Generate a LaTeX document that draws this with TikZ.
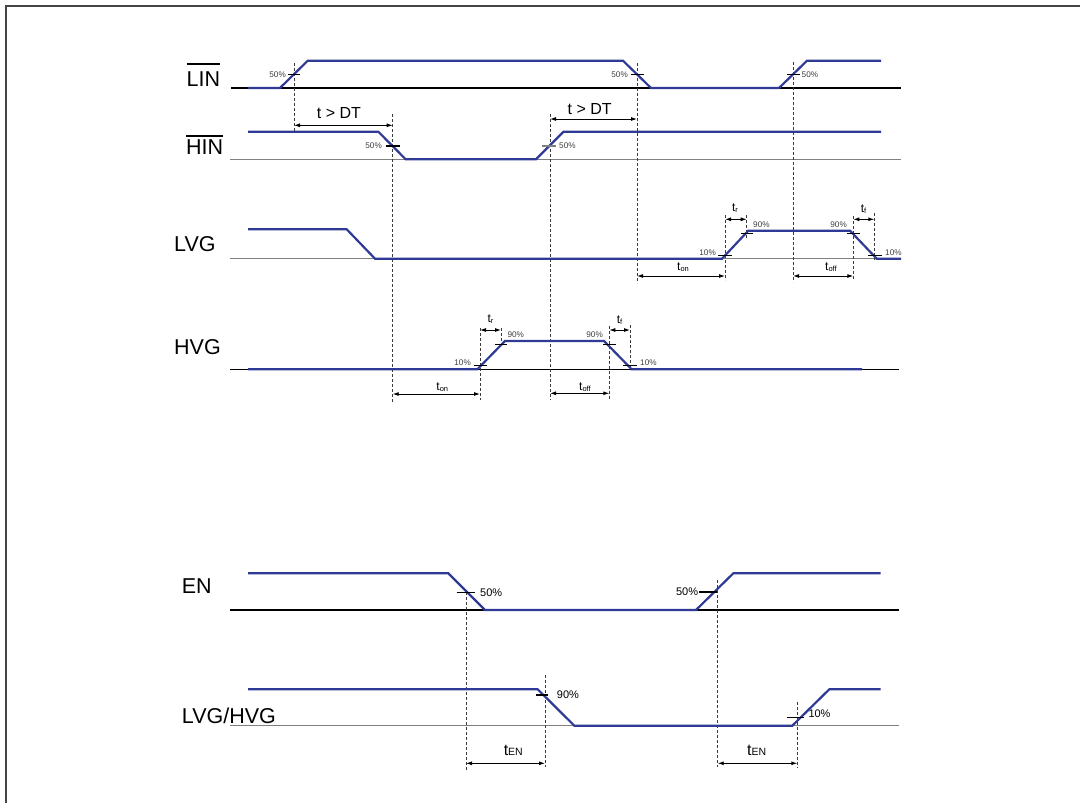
\documentclass[tikz,border=0pt]{standalone}
\usepackage{fontspec}
\setmainfont{Liberation Sans}
\usetikzlibrary{arrows.meta}
\definecolor{wavec}{HTML}{2E3A96}
\definecolor{dashc}{HTML}{3A3A3A}
\definecolor{framec}{HTML}{444444}
\definecolor{pctc}{HTML}{404040}
\newcommand\tsub[2]{t{\fontsize{7.5}{8}\selectfont\raisebox{-1pt}{#2}}}
\newcommand\tbig[1]{{\fontsize{16}{18}\selectfont t}{\fontsize{10.5}{12}\selectfont #1}}
\tikzset{
  wave/.style={draw=wavec, line width=2.2pt, line join=miter},
  base/.style={line width=1.1pt},
  vdash/.style={draw=dashc, line width=0.9pt, dash pattern=on 3pt off 2pt},
  hmark/.style={line width=1.2pt},
  dim/.style={{Latex[length=6pt,width=4pt]}-{Latex[length=6pt,width=4pt]}, line width=0.9pt},
  sig/.style={font=\fontsize{21.5}{24}\selectfont, inner sep=0pt, anchor=west},
  pct/.style={font=\fontsize{8.2}{9}\selectfont, inner sep=0pt, text=pctc},
  pctl/.style={font=\fontsize{11}{13}\selectfont, inner sep=0pt},
  tlab/.style={font=\fontsize{12}{14}\selectfont, inner sep=0pt},
  dtlab/.style={font=\fontsize{16}{18}\selectfont, inner sep=0pt},
  ovl/.style={line width=1.7pt},
}
\begin{document}
\begin{tikzpicture}[x=1pt,y=-1pt]
\useasboundingbox (0,0) rectangle (1080,803);
% frame
\draw[framec, line width=2pt] (6,803) -- (6,5.5) -- (1080,5.5);

% ---------- signal labels ----------
\node[sig] (lin) at (186.5,79.2) {LIN};
\node[sig] (hin) at (186,147.5) {HIN};
\coordinate (ovlA) at (0,64);
\coordinate (ovlB) at (0,135.7);
\draw[ovl] (lin.west |- ovlA) -- (lin.east |- ovlA);
\draw[ovl] (hin.west |- ovlB) -- (hin.east |- ovlB);
\node[sig] (lvg) at (174,244) {LVG};
\node[sig] (hvg) at (174,346.7) {HVG};
\node[sig] (en) at (181.7,586) {EN};
\node[sig] (lvghvg) at (181.7,716) {LVG/HVG};

% ---------- baselines ----------
\draw[base] (231,88) -- (901,88);
\draw[base, gray] (230,159.3) -- (901,159.3);
\draw[base, gray] (230,258.7) -- (901,258.7);
\draw[base] (230,369.3) -- (899,369.3);
\draw[base] (230,610) -- (899,610);
\draw[base, gray] (230,725.7) -- (899,725.7);

% ---------- dashed verticals ----------
\draw[vdash] (294,63) -- (294,131);
\draw[vdash] (637,63) -- (637,283);
\draw[vdash] (793,62) -- (793,282);
\draw[vdash] (392.7,114) -- (392.7,402);
\draw[vdash] (550,114) -- (550,400);
\draw[vdash] (725,215) -- (725,280);
\draw[vdash] (746.7,215) -- (746.7,238);
\draw[vdash] (853.3,216) -- (853.3,280);
\draw[vdash] (874.3,213) -- (874.3,260);
\draw[vdash] (480,328) -- (480,400);
\draw[vdash] (501,328) -- (501,345);
\draw[vdash] (609.3,326) -- (609.3,400);
\draw[vdash] (630,325) -- (630,370);
\draw[vdash] (466,592) -- (466,770);
\draw[vdash] (717.7,580) -- (717.7,767);
\draw[vdash] (545,675) -- (545,767);
\draw[vdash] (797.3,701.7) -- (797.3,767);

% ---------- waveforms ----------
\draw[wave] (248,88) -- (280,88) -- (307.7,60.7) -- (623,60.7) -- (651,88) -- (779,88) -- (807,60.7) -- (881,60.7);
\draw[wave] (248,131.7) -- (378.3,131.7) -- (405.7,159.3) -- (536,159.3) -- (563.5,131.7) -- (881,131.7);
\draw[wave] (248,229.3) -- (346.7,229.3) -- (375,258.7) -- (722,258.7) -- (748.3,230.7) -- (850,230.7) -- (876.7,258.7) -- (901,258.7);
\draw[wave] (248,369.3) -- (477.3,369.3) -- (505,341) -- (604,341) -- (631.7,369.3) -- (862,369.3);
\draw[wave] (248,573.3) -- (448.3,573.3) -- (485,610) -- (696,610) -- (733.3,573.3) -- (880.7,573.3);
\draw[wave] (248,689.3) -- (537.7,689.3) -- (574.3,725.7) -- (792.3,725.7) -- (829.3,689.3) -- (880.7,689.3);

% ---------- level marks ----------
\draw[hmark] (288,74.7) -- (300,74.7);
\draw[hmark] (630.5,74.7) -- (643.5,74.7);
\draw[hmark] (786.5,74.7) -- (799.5,74.7);
\draw[hmark] (385.5,146) -- (400,146);
\draw[hmark, gray] (542,146) -- (556,146);
\draw[hmark] (718,255.3) -- (731.7,255.3);
\draw[hmark] (741,233.3) -- (753,233.3);
\draw[hmark] (847,233.3) -- (860,233.3);
\draw[hmark] (868,255.3) -- (881.5,255.3);
\draw[hmark] (474,365.7) -- (487.3,365.7);
\draw[hmark] (495,344.3) -- (506.7,344.3);
\draw[hmark] (603.3,344.3) -- (616,344.3);
\draw[hmark] (623.3,365.7) -- (636.7,365.7);
\draw[hmark] (456.7,592.7) -- (475,592.7);
\draw[hmark] (699.3,592) -- (717.3,592);
\draw[hmark] (536,695) -- (548.3,695);
\draw[hmark] (786.7,717.7) -- (804,717.7);

% ---------- percentage labels ----------
\node[pct, anchor=east] (p1) at (286,74.7) {50\%};
\node[pct, anchor=east] (p2) at (628,74.7) {50\%};
\node[pct, anchor=west] (p3) at (801.5,74.7) {50\%};
\node[pct, anchor=east] (p4) at (382,146) {50\%};
\node[pct, anchor=west] (p5) at (559,146) {50\%};
\node[pct, anchor=east] (p6) at (716,252.7) {10\%};
\node[pct, anchor=west] (p7) at (753,224.3) {90\%};
\node[pct, anchor=east] (p8) at (847,224.3) {90\%};
\node[pct, anchor=west] (p9) at (885,252.7) {10\%};
\node[pct, anchor=east] (p10) at (471,362.3) {10\%};
\node[pct, anchor=west] (p11) at (507.3,334.3) {90\%};
\node[pct, anchor=east] (p12) at (603,334.3) {90\%};
\node[pct, anchor=west] (p13) at (640,362.3) {10\%};
\node[pctl, anchor=west] (p14) at (480,593) {50\%};
\node[pctl, anchor=east] (p15) at (698.3,592) {50\%};
\node[pctl, anchor=west] (p16) at (556.7,695) {90\%};
\node[pctl, anchor=west] (p17) at (808.3,714) {10\%};

% ---------- dimension arrows ----------
\coordinate (dt1a) at (294,125.3);   \coordinate (dt1b) at (392.7,125.3);
\coordinate (dt2a) at (550,119);     \coordinate (dt2b) at (637,119);
\draw[dim] (dt1a) -- (dt1b);
\draw[dim] (dt2a) -- (dt2b);
\node[dtlab] (dtl1) at (339,113.5) {t > DT};
\node[dtlab] (dtl2) at (589.7,108.7) {t > DT};

\coordinate (trLa) at (725,219.3);   \coordinate (trLb) at (746.7,219.3);
\coordinate (tfLa) at (853.3,219.3); \coordinate (tfLb) at (874.3,219.3);
\coordinate (tonLa) at (637,276);    \coordinate (tonLb) at (725,276);
\coordinate (toffLa) at (793,276);   \coordinate (toffLb) at (853.3,276);
\draw[dim] (trLa) -- (trLb);
\draw[dim] (tfLa) -- (tfLb);
\draw[dim] (tonLa) -- (tonLb);
\draw[dim] (toffLa) -- (toffLb);
\node[tlab] (trL) at (735,208.3) {\tsub{t}{r}};
\node[tlab] (tfL) at (863.5,209) {\tsub{t}{f}};
\node[tlab] (tonL) at (683,267.3) {\tsub{t}{on}};
\node[tlab] (toffL) at (831,267.3) {\tsub{t}{off}};

\coordinate (trHa) at (480,330);     \coordinate (trHb) at (501,330);
\coordinate (tfHa) at (609.3,330);   \coordinate (tfHb) at (630,330);
\coordinate (tonHa) at (392.7,394);  \coordinate (tonHb) at (480,394);
\coordinate (toffHa) at (550,393.3); \coordinate (toffHb) at (609.3,393.3);
\draw[dim] (trHa) -- (trHb);
\draw[dim] (tfHa) -- (tfHb);
\draw[dim] (tonHa) -- (tonHb);
\draw[dim] (toffHa) -- (toffHb);
\node[tlab] (trH) at (490.5,319.3) {\tsub{t}{r}};
\node[tlab] (tfH) at (619.5,320) {\tsub{t}{f}};
\node[tlab] (tonH) at (442.3,387) {\tsub{t}{on}};
\node[tlab] (toffH) at (585,387.3) {\tsub{t}{off}};

\coordinate (en1a) at (466,763.3);   \coordinate (en1b) at (545,763.3);
\coordinate (en2a) at (717.7,763.3); \coordinate (en2b) at (797.3,763.3);
\draw[dim] (en1a) -- (en1b);
\draw[dim] (en2a) -- (en2b);
\node[inner sep=0pt] (ten1) at (513.3,750.7) {\tbig{EN}};
\node[inner sep=0pt] (ten2) at (756.7,750.7) {\tbig{EN}};
\end{tikzpicture}
\end{document}
